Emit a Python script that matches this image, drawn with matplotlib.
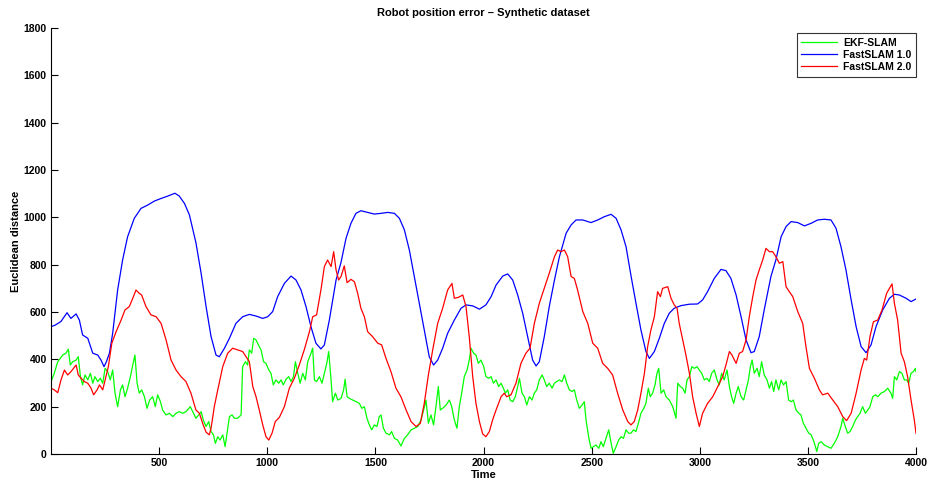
import matplotlib.pyplot as plt

plt.rcParams['font.family'] = ['Liberation Sans', 'DejaVu Sans']
plt.rcParams['font.weight'] = 'bold'

# EKF-SLAM error
t_ekf = [0, 15, 31, 54, 69, 80, 89, 100, 116, 126, 136, 146, 157, 170, 182, 193, 203, 216, 228, 239,
         250, 262, 274, 285, 296, 308, 321, 331, 342, 354, 367, 378, 388, 398, 408, 419, 432, 444, 456, 470,
         482, 493, 506, 516, 532, 547, 563, 578, 593, 609, 624, 644, 655, 670, 683, 694, 704, 717, 729, 740,
         751, 760, 771, 782, 794, 805, 814, 825, 837, 848, 863, 879, 886, 899, 909, 917, 928, 937, 948, 959,
         971, 983, 994, 1007, 1017, 1028, 1040, 1053, 1064, 1074, 1087, 1099, 1110, 1121, 1130, 1141, 1152, 1164, 1176, 1187,
         1199, 1210, 1218, 1228, 1241, 1253, 1264, 1275, 1284, 1295, 1302, 1315, 1326, 1341, 1353, 1360, 1369, 1380, 1395, 1410,
         1426, 1437, 1449, 1461, 1472, 1483, 1495, 1507, 1518, 1526, 1537, 1549, 1565, 1575, 1588, 1603, 1618, 1634, 1649, 1665,
         1680, 1696, 1711, 1723, 1734, 1745, 1757, 1769, 1780, 1791, 1800, 1811, 1827, 1842, 1853, 1865, 1877, 1888, 1899, 1911,
         1924, 1934, 1942, 1954, 1965, 1976, 1988, 2001, 2011, 2024, 2035, 2046, 2058, 2070, 2081, 2092, 2101, 2112, 2123, 2135,
         2147, 2158, 2166, 2178, 2189, 2200, 2212, 2224, 2235, 2246, 2258, 2271, 2281, 2292, 2304, 2317, 2328, 2338, 2351, 2363,
         2374, 2385, 2397, 2409, 2420, 2431, 2443, 2456, 2466, 2474, 2486, 2497, 2508, 2520, 2533, 2543, 2554, 2566, 2579, 2590,
         2600, 2613, 2625, 2636, 2647, 2659, 2671, 2682, 2694, 2705, 2716, 2728, 2741, 2751, 2762, 2771, 2782, 2793, 2802, 2810,
         2821, 2833, 2844, 2859, 2875, 2890, 2898, 2910, 2921, 2932, 2941, 2952, 2963, 2975, 2987, 2998, 3009, 3021, 3033, 3044,
         3055, 3067, 3080, 3090, 3101, 3113, 3126, 3137, 3147, 3157, 3168, 3178, 3191, 3203, 3214, 3225, 3234, 3242, 3252, 3265,
         3275, 3286, 3298, 3311, 3322, 3332, 3342, 3352, 3365, 3376, 3387, 3399, 3411, 3422, 3433, 3445, 3458, 3468, 3479, 3491,
         3504, 3515, 3525, 3535, 3541, 3550, 3561, 3576, 3592, 3607, 3622, 3638, 3653, 3661, 3673, 3684, 3695, 3707, 3720, 3730,
         3741, 3753, 3766, 3777, 3787, 3800, 3812, 3823, 3838, 3854, 3869, 3884, 3892, 3900, 3911, 3923, 3935, 3946, 3957, 3966,
         3977, 3988, 3997, 4000]
ekf = [306, 341, 390, 418, 426, 443, 376, 390, 397, 411, 327, 292, 334, 313, 341, 299, 327, 306, 320, 299,
       362, 348, 313, 355, 257, 200, 271, 292, 242, 278, 327, 376, 418, 299, 257, 271, 242, 193, 228, 242,
       200, 250, 221, 186, 165, 172, 158, 172, 179, 172, 179, 200, 179, 151, 165, 179, 144, 116, 137, 95,
       81, 45, 73, 59, 81, 31, 88, 158, 165, 151, 151, 165, 369, 390, 376, 440, 426, 489, 482, 461,
       440, 390, 383, 355, 341, 292, 313, 299, 313, 292, 316, 327, 306, 327, 390, 341, 299, 341, 313, 390,
       418, 447, 313, 306, 327, 299, 341, 383, 433, 313, 221, 257, 228, 235, 271, 316, 242, 235, 228, 221,
       214, 193, 200, 151, 123, 102, 123, 116, 158, 165, 109, 88, 81, 95, 66, 59, 34, 66, 81, 102,
       109, 116, 144, 186, 228, 130, 165, 123, 200, 285, 186, 193, 207, 228, 200, 144, 109, 200, 257, 327,
       355, 397, 447, 426, 418, 383, 397, 369, 327, 320, 327, 299, 313, 285, 299, 278, 257, 271, 228, 221,
       242, 285, 320, 257, 242, 207, 242, 228, 257, 271, 313, 334, 313, 285, 299, 278, 299, 306, 313, 306,
       334, 299, 271, 264, 271, 228, 193, 207, 221, 144, 73, 24, 31, 38, 24, 52, 31, 66, 102, 45,
       3, 31, 59, 73, 66, 102, 88, 88, 102, 95, 130, 172, 193, 214, 278, 242, 257, 292, 341, 362,
       257, 271, 242, 228, 200, 151, 299, 285, 278, 257, 313, 327, 369, 362, 369, 355, 341, 313, 320, 306,
       341, 355, 313, 292, 341, 313, 355, 285, 242, 214, 257, 285, 242, 228, 271, 313, 369, 397, 341, 362,
       327, 390, 334, 313, 278, 306, 264, 313, 271, 313, 292, 306, 228, 221, 228, 186, 172, 165, 130, 109,
       88, 81, 59, 31, 10, 45, 52, 38, 31, 24, 45, 73, 116, 151, 116, 88, 95, 116, 144, 158,
       172, 200, 172, 186, 200, 242, 250, 242, 257, 264, 278, 257, 235, 327, 313, 348, 341, 313, 313, 299,
       341, 348, 362, 348]

# FastSLAM 1.0 error
t_fs1 = [0, 20, 46, 74, 92, 116, 131, 146, 170, 193, 216, 231, 245, 256, 270, 285, 308, 331, 354, 385,
         416, 447, 478, 509, 540, 573, 593, 617, 640, 670, 694, 717, 740, 763, 778, 802, 825, 855, 886, 917,
         948, 979, 1002, 1025, 1048, 1079, 1110, 1133, 1156, 1179, 1202, 1225, 1248, 1264, 1287, 1318, 1341, 1364, 1387, 1410,
         1433, 1464, 1495, 1526, 1557, 1588, 1611, 1634, 1657, 1680, 1703, 1726, 1749, 1769, 1788, 1811, 1834, 1865, 1896, 1919,
         1950, 1981, 2011, 2035, 2058, 2089, 2112, 2135, 2158, 2181, 2204, 2227, 2243, 2258, 2281, 2304, 2328, 2351, 2382, 2405,
         2428, 2459, 2497, 2528, 2559, 2590, 2613, 2636, 2659, 2682, 2705, 2728, 2751, 2767, 2790, 2813, 2836, 2859, 2882, 2913,
         2952, 2990, 3013, 3036, 3067, 3098, 3121, 3144, 3168, 3191, 3214, 3237, 3252, 3275, 3298, 3329, 3352, 3376, 3399, 3422,
         3453, 3484, 3515, 3545, 3576, 3607, 3630, 3653, 3676, 3700, 3723, 3746, 3769, 3792, 3815, 3846, 3877, 3900, 3923, 3954,
         3977, 4000]
fs1 = [538, 545, 560, 597, 573, 592, 566, 503, 489, 426, 418, 397, 369, 390, 426, 510, 693, 820, 918, 996,
       1038, 1052, 1069, 1080, 1090, 1102, 1090, 1059, 1010, 893, 764, 623, 496, 418, 411, 447, 489, 552, 580, 590,
       583, 573, 580, 602, 665, 721, 752, 735, 693, 623, 538, 468, 444, 461, 566, 735, 810, 911, 975, 1017,
       1028, 1021, 1014, 1017, 1021, 1017, 996, 947, 862, 750, 637, 524, 411, 376, 397, 447, 510, 566, 616, 630,
       626, 612, 630, 665, 714, 752, 761, 735, 672, 595, 496, 397, 372, 390, 496, 623, 735, 834, 933, 968,
       989, 989, 978, 989, 1003, 1013, 996, 947, 876, 753, 637, 524, 433, 404, 433, 489, 552, 595, 616, 627,
       633, 634, 651, 686, 742, 780, 775, 742, 672, 580, 482, 428, 433, 496, 609, 750, 820, 918, 961, 982,
       978, 964, 975, 989, 992, 989, 954, 876, 778, 651, 538, 454, 428, 461, 538, 609, 658, 675, 672, 658,
       644, 655]

# FastSLAM 2.0 error
t_fs2 = [0, 15, 31, 46, 62, 77, 92, 116, 126, 139, 154, 170, 185, 197, 213, 224, 239, 250, 265, 281,
         301, 324, 342, 362, 378, 393, 408, 419, 439, 462, 486, 509, 532, 555, 578, 601, 624, 647, 670, 686,
         701, 717, 732, 740, 755, 771, 794, 817, 840, 863, 886, 902, 917, 933, 948, 963, 979, 994, 1007, 1022,
         1037, 1056, 1079, 1102, 1125, 1148, 1171, 1195, 1210, 1228, 1248, 1264, 1279, 1295, 1307, 1318, 1330, 1341, 1356, 1369,
         1387, 1403, 1418, 1433, 1449, 1464, 1487, 1511, 1529, 1549, 1572, 1595, 1618, 1642, 1665, 1688, 1708, 1726, 1745, 1765,
         1788, 1811, 1834, 1854, 1865, 1884, 1904, 1919, 1934, 1950, 1965, 1981, 1996, 2011, 2027, 2042, 2058, 2081, 2096, 2107,
         2127, 2150, 2173, 2196, 2215, 2235, 2258, 2281, 2304, 2328, 2343, 2358, 2374, 2389, 2405, 2420, 2435, 2459, 2482, 2505,
         2528, 2551, 2574, 2597, 2620, 2644, 2667, 2682, 2697, 2713, 2728, 2744, 2759, 2774, 2790, 2805, 2818, 2828, 2852, 2867,
         2882, 2895, 2905, 2921, 2936, 2952, 2967, 2983, 2998, 3013, 3036, 3060, 3083, 3106, 3121, 3137, 3149, 3168, 3183, 3198,
         3214, 3229, 3245, 3260, 3275, 3291, 3306, 3322, 3337, 3352, 3368, 3384, 3399, 3414, 3430, 3453, 3476, 3491, 3507, 3530,
         3553, 3568, 3592, 3615, 3638, 3661, 3679, 3700, 3723, 3746, 3761, 3772, 3787, 3803, 3823, 3843, 3864, 3889, 3900, 3915,
         3931, 3946, 3961, 3977, 3992, 4000]
fs2 = [278, 271, 259, 313, 355, 334, 348, 376, 334, 320, 306, 299, 278, 250, 271, 292, 271, 313, 369, 468,
       517, 566, 609, 623, 658, 693, 679, 672, 623, 588, 580, 552, 482, 397, 355, 327, 306, 257, 186, 172,
       130, 92, 81, 109, 200, 271, 369, 426, 447, 440, 433, 411, 390, 285, 242, 186, 123, 73, 59, 88,
       137, 155, 200, 278, 320, 376, 440, 517, 580, 588, 693, 792, 820, 792, 855, 778, 735, 750, 795, 724,
       738, 728, 679, 616, 580, 517, 496, 468, 461, 404, 348, 278, 242, 186, 137, 116, 130, 214, 334, 440,
       552, 616, 693, 721, 658, 662, 672, 623, 496, 327, 214, 137, 85, 73, 95, 144, 186, 242, 257, 242,
       250, 299, 383, 426, 447, 552, 637, 700, 764, 834, 862, 855, 862, 834, 750, 742, 693, 602, 552, 468,
       447, 383, 362, 334, 257, 186, 137, 123, 137, 186, 257, 341, 454, 524, 580, 686, 665, 700, 707, 658,
       630, 616, 552, 482, 418, 341, 242, 172, 116, 172, 214, 242, 285, 327, 376, 433, 418, 383, 426, 433,
       482, 580, 665, 735, 778, 820, 869, 855, 855, 834, 806, 813, 707, 686, 665, 602, 552, 454, 362, 320,
       271, 250, 257, 228, 200, 158, 141, 172, 257, 355, 404, 397, 496, 559, 566, 609, 679, 719, 637, 566,
       426, 390, 327, 228, 144, 87]

labels = ['EKF-SLAM', 'FastSLAM 1.0', 'FastSLAM 2.0']
colors = ['#00ff00', '#0000ff', '#ff0000']

fig = plt.figure(figsize=(9.33, 4.84), dpi=100)
ax = fig.add_axes([0.0547, 0.062, 0.9271, 0.880])

ax.plot(t_ekf, ekf, color=colors[0], lw=0.9, label=labels[0])
ax.plot(t_fs1, fs1, color=colors[1], lw=0.9, label=labels[1])
ax.plot(t_fs2, fs2, color=colors[2], lw=0.9, label=labels[2])

ax.set_xlim(0, 4000)
ax.set_ylim(0, 1800)
ax.set_xticks(range(500, 4001, 500))
ax.set_yticks(range(0, 1801, 200))
ax.tick_params(direction='in', length=5, width=0.8, labelsize=7.5, pad=3)
for lab in ax.get_xticklabels() + ax.get_yticklabels():
    lab.set_fontweight('bold')
ax.spines['top'].set_visible(False)
ax.spines['right'].set_visible(False)
for s in ('left', 'bottom'):
    ax.spines[s].set_linewidth(0.8)

ax.set_title('Robot position error – Synthetic dataset', fontsize=8, fontweight='bold', pad=9)
ax.set_xlabel('Time', fontsize=8, fontweight='bold', labelpad=1)
ax.set_ylabel('Euclidean distance', fontsize=8, fontweight='bold', labelpad=2)

leg = ax.legend(loc='upper right', bbox_to_anchor=(1.0, 0.988), fontsize=7.5, frameon=True,
                fancybox=False, edgecolor='black', borderpad=0.45, labelspacing=0.2,
                handlelength=3.4, handletextpad=0.6, borderaxespad=0)
leg.get_frame().set_linewidth(0.8)
for txt in leg.get_texts():
    txt.set_fontweight('bold')

fig.savefig('out.png', dpi=100)
